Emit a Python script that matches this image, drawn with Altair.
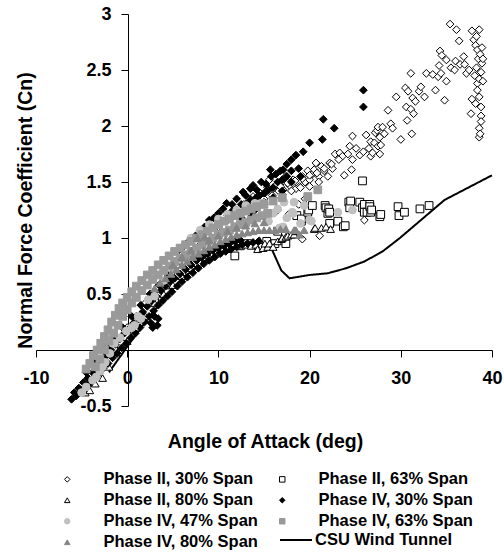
import altair as alt
import pandas as pd

FONT = "Liberation Sans"

series_names = ["Phase II, 30% Span", "Phase II, 63% Span", "Phase II, 80% Span",
                "Phase IV, 30% Span", "Phase IV, 47% Span", "Phase IV, 63% Span",
                "Phase IV, 80% Span"]
series_shapes = ["diamond", "square", "triangle-up", "diamond", "circle", "square", "triangle-up"]
series_fills = ["white", "white", "white", "black", "#c0c0c0", "#9a9a9a", "#858585"]
series_strokes = ["black", "black", "black", "black", "#c0c0c0", "#9a9a9a", "#858585"]

x_ticks = [-10, 0, 10, 20, 30, 40]
y_ticks = [-0.5, 0, 0.5, 1, 1.5, 2, 2.5, 3]

# Phase II, 30% span (open diamonds)
p2_30_x = [-3.0, -2.0, -1.0, 0.0, 1.0, 2.0, 3.0, 4.0, 5.0, 6.0, 7.0, 8.0, 9.0, 10.0, 11.0,
           11.5, 12.0, 12.5, 13.0, 13.3, 13.8, 14.2, 14.6, 15.0, 15.4, 15.6, 15.9, 16.3, 16.6, 17.0,
           17.1, 17.4, 17.8, 18.2, 18.5, 18.9, 19.2, 19.5, 19.8, 20.0, 20.3, 20.5, 20.7, 21.0, 21.3,
           21.6, 22.0, 22.2, 22.5, 22.8, 23.3, 23.6, 23.8, 24.2, 24.4, 24.6, 24.7, 24.7, 25.1, 25.5,
           25.9, 26.2, 26.5, 26.7, 26.7, 26.9, 27.1, 27.2, 27.4, 27.5, 27.5, 27.7, 27.7, 27.8, 28.0,
           28.2, 28.6, 28.9, 29.1, 29.5, 30.0, 30.5, 30.6, 30.7, 30.8, 31.1, 31.1, 31.2, 31.3, 31.4,
           31.6, 32.0, 32.2, 32.6, 32.8, 33.5, 33.8, 34.1, 34.2, 34.3, 34.4, 34.5, 34.8, 35.0, 35.0,
           35.4, 35.5, 35.9, 36.0, 36.1, 36.4, 36.5, 36.9, 37.0, 37.2, 37.5, 37.7, 37.8, 37.8, 38.0,
           38.1, 38.2, 38.2, 38.3, 38.3, 38.4, 38.4, 38.4, 38.5, 38.6, 38.6, 38.6, 38.6, 38.6, 38.7,
           38.7, 38.8, 38.8, 38.8, 38.8, 38.9, 38.9, 39.0, 39.0,
           16.5, 17.7, 19.2, 21.1, 26.0, 18.8, 19.5,
           12.8, 13.6, 14.4, 15.2, 16.0, 16.8, 17.6, 18.4, 19.2, 20.0, 20.8, 21.6, 22.4, 23.2,
           14.0, 15.0, 16.0, 17.0, 18.0, 19.0, 20.0, 21.0]
p2_30_y = [-0.12, -0.02, 0.10, 0.20, 0.30, 0.42, 0.52, 0.60, 0.70, 0.78, 0.86, 0.94, 1.02, 1.10, 1.16,
           1.22, 1.25, 1.28, 1.24, 1.32, 1.37, 1.30, 1.40, 1.35, 1.45, 1.52, 1.38, 1.47, 1.42, 1.50,
           1.43, 1.55, 1.47, 1.52, 1.44, 1.46, 1.55, 1.50, 1.60, 1.52, 1.57, 1.61, 1.67, 1.55, 1.64,
           1.60, 1.55, 1.67, 1.62, 1.75, 1.76, 1.73, 1.56, 1.75, 1.82, 1.61, 1.70, 1.91, 1.80, 1.74,
           1.77, 1.92, 1.80, 1.86, 1.73, 1.76, 1.85, 1.94, 1.96, 1.82, 1.99, 1.75, 1.90, 1.83, 1.99,
           1.93, 2.14, 2.02, 1.98, 2.26, 1.88, 2.34, 2.17, 2.05, 2.31, 2.47, 2.15, 1.93, 2.25, 2.11,
           2.22, 2.31, 2.35, 2.26, 2.47, 2.46, 2.32, 2.44, 2.54, 2.67, 2.47, 2.63, 2.23, 2.59, 2.40,
           2.91, 2.52, 2.50, 2.58, 2.86, 2.76, 2.55, 2.62, 2.55, 2.47, 2.50, 2.11, 2.85, 2.24, 2.77,
           2.45, 2.72, 2.20, 2.80, 2.52, 2.68, 2.38, 2.32, 2.60, 2.86, 2.42, 2.26, 1.98, 1.90, 2.64,
           1.93, 2.48, 2.17, 2.09, 2.04, 2.70, 2.56, 2.60, 2.40,
           1.25, 1.21, 0.99, 1.02, 1.16, 1.30, 1.35,
           1.30, 1.34, 1.38, 1.41, 1.44, 1.46, 1.49, 1.51, 1.53, 1.56, 1.58, 1.62, 1.66, 1.70,
           1.27, 1.32, 1.35, 1.39, 1.42, 1.45, 1.46, 1.50]

# Phase II, 63% span (open squares)
p2_63_x = [-3.0, -1.5, 0.0, 1.5, 3.0, 4.5, 6.0, 7.5, 9.0, 10.5, 11.8, 12.4, 13.2, 14.4, 15.3,
           16.2, 16.5, 17.4, 18.6, 19.1, 19.1, 19.8, 19.9, 20.3, 21.7, 21.8, 22.0, 22.1, 22.2, 22.2,
           23.1, 23.7, 23.9, 24.3, 24.4, 24.5, 25.5, 25.8, 25.8, 26.0, 26.0, 26.3, 26.6, 26.6, 26.7,
           26.8, 27.7, 27.8, 29.7, 29.8, 30.4, 32.1, 33.1]
p2_63_y = [-0.16, 0.00, 0.12, 0.28, 0.44, 0.58, 0.70, 0.78, 0.85, 0.90, 0.84, 0.93, 0.95, 0.93, 0.97,
           0.95, 1.06, 0.95, 1.20, 1.15, 1.17, 1.23, 1.25, 1.29, 1.29, 1.27, 1.22, 1.26, 1.13, 1.23,
           1.15, 1.10, 1.11, 1.32, 1.27, 1.33, 1.32, 1.27, 1.51, 1.30, 1.23, 1.23, 1.30, 1.28, 1.23,
           1.25, 1.19, 1.21, 1.28, 1.20, 1.23, 1.26, 1.29]

# Phase II, 80% span (open triangles)
p2_80_x = [-4.6, -4.1, -3.5, -2.7, -2.0, -1.0, 0.0, 1.0, 2.0, 3.0, 4.0, 5.0, 6.0, 7.0, 8.0,
           9.0, 10.0, 11.0, 12.0, 13.0, 13.6, 14.1, 14.3, 14.5, 14.9, 15.1, 15.4, 15.6, 16.0, 16.5,
           16.9, 17.0, 17.4, 17.6, 18.0, 18.3, 18.5, 20.5, 20.6, 21.3, 21.8, 22.3]
p2_80_y = [-0.38, -0.36, -0.30, -0.25, -0.15, -0.02, 0.08, 0.20, 0.30, 0.42, 0.50, 0.58, 0.66, 0.73, 0.78,
           0.83, 0.87, 0.90, 0.93, 0.94, 0.93, 0.94, 0.90, 0.98, 0.91, 0.95, 0.92, 0.95, 0.92, 0.97,
           0.99, 1.00, 1.01, 1.02, 1.03, 1.03, 1.06, 1.08, 1.09, 1.09, 1.10, 1.08]

# Phase IV, 30% span (filled black diamonds)
p4_30_x = [-6.1, -5.6, -5.1, -4.6, -4.1, -3.6, -3.1, -2.6, -2.1, -1.6, -1.1, -0.6, -0.1, 0.4, 0.9,
           1.4, 1.9, 2.4, 2.9, 3.4, 3.9, 4.4, 4.9, 5.5, 6.0, 6.6, 7.2, 7.8, 8.4, 9.0,
           9.6, 10.2, 10.8, 11.4, 12.0, 12.6, 13.2, 13.8, 14.4,
           -5.8, -5.3, -4.8, -4.3, -3.8, -3.3, -2.8, -2.3, -1.8, -1.3, -0.8, -0.3, 0.2, 0.7, 1.2,
           1.7, 2.2, 2.7, 3.2, 3.7, 4.2, 4.7, 5.2, 5.8, 6.4, 7.0, 7.6, 8.2, 8.8, 9.4,
           10.0, 10.6, 11.2, 11.8, 12.4,
           -4.5, -3.5, -2.5, -1.5, -0.5, 0.5, 1.5, 2.5, 3.5, 4.5,
           2.6, 2.8, 3.0, 3.4, 3.3,
           5.5, 6.0, 6.5, 7.0, 7.5, 8.0, 8.5, 9.0, 9.5, 10.0, 10.5, 10.9, 11.5, 12.0, 12.7,
           13.0, 13.5, 13.8, 14.2, 14.7, 15.2, 15.7, 15.8, 16.3, 16.8, 17.1, 17.5, 18.0, 18.5, 19.3,
           20.0, 21.4, 21.5, 22.7, 25.9, 25.9,
           11.0, 11.5, 12.0, 12.5, 13.0, 13.5, 14.0, 14.5, 15.0, 15.5, 16.0, 16.5, 17.0, 17.5, 18.0,
           18.8, 14.0, 15.0, 16.0, 17.0, 18.0, 19.0, 12.5, 13.5]
p4_30_y = [-0.44, -0.41, -0.37, -0.33, -0.30, -0.25, -0.21, -0.16, -0.12, -0.07, -0.03, 0.02, 0.06, 0.11, 0.15,
           0.20, 0.25, 0.30, 0.35, 0.40, 0.44, 0.48, 0.52, 0.57, 0.61, 0.65, 0.69, 0.73, 0.77, 0.80,
           0.83, 0.86, 0.88, 0.90, 0.92, 0.94, 0.95, 0.96, 0.97,
           -0.38, -0.34, -0.29, -0.25, -0.20, -0.15, -0.10, -0.05, 0.00, 0.05, 0.10, 0.15, 0.19, 0.24, 0.29,
           0.34, 0.39, 0.44, 0.48, 0.53, 0.57, 0.61, 0.64, 0.68, 0.72, 0.76, 0.80, 0.83, 0.86, 0.89,
           0.91, 0.93, 0.95, 0.97, 0.98,
           -0.20, -0.10, 0.00, 0.10, 0.20, 0.30, 0.40, 0.50, 0.58, 0.66,
           0.24, 0.20, 0.30, 0.28, 0.22,
           0.88, 0.91, 0.95, 1.00, 1.02, 1.07, 1.10, 1.16, 1.18, 1.22, 1.26, 1.31, 1.30, 1.35, 1.41,
           1.38, 1.44, 1.47, 1.43, 1.50, 1.48, 1.61, 1.55, 1.57, 1.60, 1.61, 1.66, 1.70, 1.74, 1.77,
           1.85, 1.88, 2.06, 1.98, 2.17, 2.32,
           1.20, 1.24, 1.25, 1.30, 1.30, 1.34, 1.35, 1.38, 1.40, 1.43, 1.45, 1.50, 1.52, 1.55, 1.60,
           1.62, 1.25, 1.30, 1.36, 1.42, 1.50, 1.55, 1.18, 1.22]

# Phase IV, 47% span (light grey circles)
p4_47_x = [-5.0, -4.5, -3.8, -3.4, -3.0, -2.7, -2.4, -1.9, -1.6, -1.4, -0.8, -0.1, 0.5, 0.8, 1.2,
           1.5, 2.3, 3.0, 4.0, 5.0, 6.0,
           7.0, 8.0, 9.0, 10.0, 11.0, 12.0, 13.0, 14.0, 14.7, 15.5, 16.0, 16.5, 16.7, 17.1, 17.2,
           17.5, 18.1, 18.2, 18.3, 19.0, 19.4, 20.0, 20.2, 23.1, 24.7]
p4_47_y = [-0.38, -0.33, -0.27, -0.24, -0.19, -0.15, -0.11, -0.03, 0.06, 0.06, 0.11, 0.17, 0.20, 0.22, 0.30,
           0.28, 0.45, 0.48, 0.62, 0.72, 0.82,
           1.00, 1.07, 1.12, 1.17, 1.21, 1.25, 1.29, 1.31, 1.31, 1.15, 1.22, 1.26, 1.09, 1.10, 1.32,
           1.18, 1.23, 1.22, 1.32, 1.13, 1.29, 1.16, 1.15, 1.23, 1.25]

# Phase IV, 63% span (grey squares)
p4_63_x = [-4.5, -4.1, -3.7, -3.3, -2.9, -2.5, -2.1, -1.7, -1.3, -0.9, -0.5, 0.0, 0.5, 1.0, 1.6,
           2.2, 2.8, 3.4, 4.0, 4.6, 5.2, 5.8, 6.4, 7.0, 7.6, 8.2, 8.8, 9.4, 10.0, 10.6,
           11.2, 11.8, 12.4, 13.0, 13.6, 14.2,
           -3.5, -3.0, -2.5, -2.0, -1.5, -1.0, -0.5, 0.0, 0.5, 1.0, 1.6, 2.2, 2.8, 3.4, 4.0,
           4.6, 5.2, 5.8, 6.4, 7.0, 7.6, 8.2, 8.8, 9.4, 10.0, 10.6, 11.2, 11.8, 12.4, 13.0,
           13.6, 14.2, 14.8, 15.4,
           15.0, 16.0, 17.0, 19.8, 20.9]
p4_63_y = [-0.17, -0.12, -0.05, 0.00, 0.06, 0.12, 0.18, 0.25, 0.31, 0.37, 0.42, 0.47, 0.52, 0.57, 0.62,
           0.67, 0.71, 0.76, 0.80, 0.84, 0.88, 0.91, 0.94, 0.97, 1.00, 1.03, 1.06, 1.09, 1.12, 1.15,
           1.17, 1.20, 1.22, 1.24, 1.26, 1.28,
           -0.15, -0.08, 0.00, 0.08, 0.15, 0.22, 0.30, 0.36, 0.42, 0.47, 0.53, 0.58, 0.63, 0.67, 0.71,
           0.75, 0.79, 0.82, 0.85, 0.88, 0.91, 0.94, 0.97, 1.00, 1.03, 1.05, 1.07, 1.10, 1.12, 1.14,
           1.16, 1.18, 1.20, 1.22,
           1.30, 1.33, 1.36, 1.37, 1.43]

# Phase IV, 80% span (darker grey triangles)
p4_80_x = [3.0, 3.6, 4.2, 4.8, 5.4, 6.0, 6.6, 7.2, 7.8, 8.4, 9.0, 9.6, 10.2, 10.8, 11.4,
           12.0, 12.6, 13.2, 13.8, 14.4, 15.0, 15.6, 16.2, 16.8, 17.4, 18.3, 18.5, 18.9, 19.4,
           5.0, 6.0, 7.0, 7.7, 8.5, 9.0, 10.0, 11.0, 12.0, 13.0, 14.0, 15.0]
p4_80_y = [0.55, 0.60, 0.64, 0.68, 0.72, 0.76, 0.79, 0.83, 0.86, 0.89, 0.92, 0.94, 0.97, 0.99, 1.01,
           1.03, 1.04, 1.05, 1.06, 1.07, 1.07, 1.07, 1.07, 1.08, 1.08, 1.07, 1.07, 1.03, 1.07,
           0.76, 0.83, 0.89, 1.00, 1.01, 0.98, 1.02, 1.06, 1.09, 1.11, 1.13, 1.14]

# CSU wind tunnel curve
csu_x = [-2.0, 0.0, 2.0, 4.0, 6.0, 8.0, 10.0, 12.0, 13.4, 15.8, 16.9, 17.8, 20.0, 22.0, 24.0,
         26.0, 28.0, 29.9, 34.8, 40.0]
csu_y = [-0.20, 0.03, 0.25, 0.46, 0.63, 0.77, 0.86, 0.92, 0.94, 0.91, 0.71, 0.64, 0.67, 0.685, 0.73,
         0.79, 0.88, 1.00, 1.34, 1.56]

all_x = [p2_30_x, p2_63_x, p2_80_x, p4_30_x, p4_47_x, p4_63_x, p4_80_x]
all_y = [p2_30_y, p2_63_y, p2_80_y, p4_30_y, p4_47_y, p4_63_y, p4_80_y]

rows = []
for name, xs, ys in zip(series_names, all_x, all_y):
    for xv, yv in zip(xs, ys):
        rows.append({"series": name, "aoa": xv, "cn": yv})
pts = pd.DataFrame(rows)
csu = pd.DataFrame({"aoa": csu_x, "cn": csu_y, "curve": ["CSU Wind Tunnel"] * len(csu_x)})

x_scale = alt.Scale(domain=[-10, 40], nice=False, zero=False)
y_scale = alt.Scale(domain=[-0.5, 3], nice=False, zero=False)

x_axis = alt.Axis(values=x_ticks, title="Angle of Attack (deg)", offset=-56, labelFlush=False,
                  labelExpr="'' + datum.value", labelPadding=12, tickSize=7,
                  titleX=229, titleY=82, titleBaseline="top", titleAlign="center")
y_axis = alt.Axis(values=y_ticks, title="Normal Force Coefficient (Cn)", offset=-92, labelFlush=False,
                  labelExpr="'' + datum.value", labelPadding=10, tickSize=7,
                  titleX=-103, titleY=196, titleBaseline="middle", titleAlign="center", titleAngle=270)

pt_legend = alt.Legend(title=None, orient="none", direction="horizontal", legendX=23, legendY=457,
                       columns=2, columnPadding=16, rowPadding=4, padding=0,
                       labelFont=FONT, labelFontSize=16.5,
                       labelFontWeight="bold", labelColor="black", labelLimit=400,
                       labelOffset=28, symbolSize=30, symbolStrokeWidth=1)

x_enc = alt.X("aoa:Q", scale=x_scale, axis=x_axis)
y_enc = alt.Y("cn:Q", scale=y_scale, axis=y_axis)

points = alt.Chart(pts).mark_point(size=60, strokeWidth=1, opacity=1, filled=False).encode(
    x=x_enc,
    y=y_enc,
    shape=alt.Shape("series:N", scale=alt.Scale(domain=series_names, range=series_shapes), legend=pt_legend),
    fill=alt.Fill("series:N", scale=alt.Scale(domain=series_names, range=series_fills), legend=pt_legend),
    stroke=alt.Stroke("series:N", scale=alt.Scale(domain=series_names, range=series_strokes), legend=pt_legend),
)

line = alt.Chart(csu).mark_line(color="black", strokeWidth=2).encode(
    x=x_enc,
    y=y_enc,
    strokeDash=alt.StrokeDash("curve:N", scale=alt.Scale(range=[[1, 0]]),
                              legend=alt.Legend(title=None, orient="none", legendX=243, legendY=509,
                                                padding=0,
                                                labelFont=FONT, labelFontSize=16.5, labelFontWeight="bold",
                                                labelColor="black", labelLimit=400, labelOffset=2,
                                                symbolSize=1024, symbolStrokeWidth=2,
                                                symbolStrokeColor="black")),
)

chart = alt.layer(line, points).properties(
    width=456, height=392,
    padding={"left": 36, "top": 14, "right": 12, "bottom": 146},
    autosize=alt.AutoSizeParams(type="none"),
).configure_view(stroke=None).configure_axis(
    grid=False, domainColor="black", domainWidth=1, tickColor="black", tickWidth=1,
    labelFont=FONT, labelFontSize=18, labelFontWeight="bold", labelColor="black",
    titleFont=FONT, titleFontSize=19.5, titleFontWeight="bold", titleColor="black",
)

chart.save("out.html", embed_options={"renderer": "svg", "actions": False})
